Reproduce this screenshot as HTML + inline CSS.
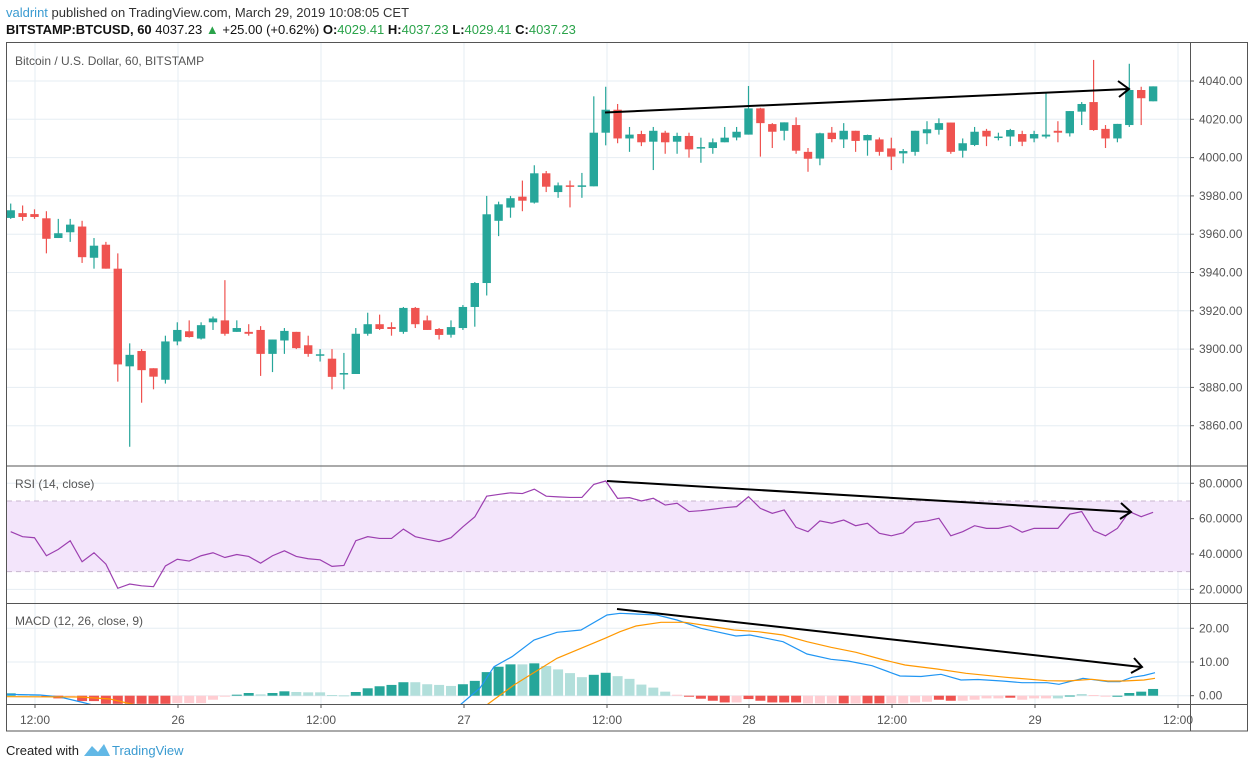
<!DOCTYPE html>
<html><head><meta charset="utf-8"><style>
html,body{margin:0;padding:0;background:#fff;width:1254px;height:768px;overflow:hidden}
svg{display:block;font-family:"Liberation Sans",Arial,sans-serif}
</style></head><body>
<svg id="s" width="1254" height="768" viewBox="0 0 1254 768" xmlns="http://www.w3.org/2000/svg">
<defs>
<clipPath id="cp"><rect x="7" y="43" width="1183" height="422"/></clipPath>
<clipPath id="cr"><rect x="7" y="467" width="1183" height="136"/></clipPath>
<clipPath id="cm"><rect x="7" y="604" width="1183" height="100"/></clipPath>
</defs>
<text x="6" y="17" font-size="13" fill="#333"><tspan fill="#3a9bd1">valdrint</tspan> published on TradingView.com, March 29, 2019 10:08:05 CET</text>
<text x="6" y="34" font-size="13" fill="#111"><tspan font-weight="bold">BITSTAMP:BTCUSD, 60</tspan> 4037.23 <tspan fill="#2aa34a">▲</tspan> +25.00 (+0.62%) <tspan font-weight="bold">O:</tspan><tspan fill="#2aa34a">4029.41</tspan> <tspan font-weight="bold">H:</tspan><tspan fill="#2aa34a">4037.23</tspan> <tspan font-weight="bold">L:</tspan><tspan fill="#2aa34a">4029.41</tspan> <tspan font-weight="bold">C:</tspan><tspan fill="#2aa34a">4037.23</tspan></text>
<g id="grid"></g>
<g id="rsiband"></g>
<g id="candles" clip-path="url(#cp)"></g>
<g id="rsi" clip-path="url(#cr)"></g>
<g id="macd" clip-path="url(#cm)"></g>
<g id="axes"></g>
<text x="15" y="65" font-size="12" fill="#555">Bitcoin / U.S. Dollar, 60, BITSTAMP</text>
<text x="15" y="488" font-size="12" fill="#555">RSI (14, close)</text>
<text x="15" y="625" font-size="12" fill="#555">MACD (12, 26, close, 9)</text>
<g stroke="#000" stroke-width="2" fill="none">
<line x1="605" y1="112.5" x2="1128" y2="89"/>
<polyline points="1118,81 1129,89 1119,97"/>
<line x1="607" y1="481" x2="1130" y2="512"/>
<polyline points="1121,503 1131,512 1120,519"/>
<line x1="617" y1="609" x2="1141" y2="667"/>
<polyline points="1134,658 1142,667 1131,673"/>
</g>
<text x="6" y="755" font-size="13" fill="#222">Created with</text>
<path d="M84 756 L92 746 L98 752 L104 744 L110 756 Z" fill="#62b8e6"/>
<text x="112" y="755" font-size="13" fill="#3a9bd1">TradingView</text>
</svg>
<script>
var NS="http://www.w3.org/2000/svg";
function el(p,t,a){var e=document.createElementNS(NS,t);for(var k in a)e.setAttribute(k,a[k]);document.getElementById(p).appendChild(e);return e;}
function tx(p,x,y,s,a){var e=el(p,"text",Object.assign({x:x,y:y,"font-size":12,fill:"#555"},a||{}));e.textContent=s;return e;}
function X(k){return 10.7+11.9*k;}
function PY(p){return 81+(4040-p)*1.915;}
function RY(v){return 483.3+(80-v)*1.767;}
function MY(v){return 695.7-v*3.37;}
var vx=[35,178,321,464,607,749,892,1035,1178];
vx.forEach(function(x){el("grid","line",{x1:x,y1:43,x2:x,y2:704,stroke:"#e6edf3","stroke-width":1});});
for(var p=3860;p<=4040;p+=20)el("grid","line",{x1:7,y1:PY(p),x2:1190,y2:PY(p),stroke:"#e6edf3"});
[20,40,60,80].forEach(function(v){el("grid","line",{x1:7,y1:RY(v),x2:1190,y2:RY(v),stroke:"#e6edf3"});});
[0,10,20].forEach(function(v){el("grid","line",{x1:7,y1:MY(v),x2:1190,y2:MY(v),stroke:"#e6edf3"});});
el("rsiband","rect",{x:7,y:RY(70),width:1183,height:RY(30)-RY(70),fill:"#f3e5fb"});
[70,30].forEach(function(v){el("rsiband","line",{x1:7,y1:RY(v),x2:1190,y2:RY(v),stroke:"#c8b6cf","stroke-dasharray":"5,4"});});
var D=[[3968.5,3972.5,3976,3968],[3971,3969,3975,3967],[3970.5,3969,3973,3968],[3968.3,3957.6,3972,3950],[3958,3960.5,3968,3958],[3961,3965,3968,3956],[3964,3948,3967,3945],[3947.7,3954,3958,3942],[3954.5,3942,3956,3942],[3942,3892,3950,3883],[3891,3897,3903,3849],[3899,3889,3900,3872],[3890,3885.6,3890,3879],[3884,3904,3907,3882],[3904,3910,3914,3902],[3909.3,3906.3,3915,3906],[3905.5,3912.5,3914,3905],[3914,3916,3917,3910],[3915,3908,3936,3907],[3909,3911,3915,3909],[3909,3908,3913,3907],[3910,3897.5,3912,3886],[3897.5,3905,3905,3888],[3904.5,3909.5,3911,3897.5],[3909,3900.5,3909,3900],[3902,3897.5,3907,3896],[3897,3897.3,3900,3893.5],[3895,3885.5,3900,3879],[3887,3887.5,3898,3879],[3887,3908,3911,3887],[3908,3913,3919,3907],[3913,3910.5,3918,3910],[3911.5,3910.5,3914,3907],[3909,3921.5,3922,3908],[3921.5,3913,3922,3911],[3915,3910,3917.5,3910],[3910.5,3907.4,3911,3905],[3907.5,3911.5,3915,3906],[3911,3922,3923,3910],[3922,3934.5,3935,3911.7],[3934.5,3970.4,3980,3928],[3967,3975.6,3977,3959],[3973.9,3978.8,3980,3968.6],[3979.6,3977.5,3988,3972],[3976.5,3991.8,3996,3976],[3991.8,3984.8,3993,3982],[3982,3985.5,3987,3979],[3985.5,3985,3988,3974],[3985,3985.5,3992,3979],[3985,4013,4032,3985],[4013,4025,4037,4006.4],[4025,4010,4028,4007.5],[4010,4012,4016,4003],[4012.3,4008,4014,4006],[4008.3,4014,4016,3993.5],[4013,4008,4014,4002],[4008.3,4011.3,4013,4002],[4011.3,4004.3,4013,4000],[4005,4005.5,4010.4,3997.3],[4005,4008,4010,4002],[4008,4010.4,4016,4008],[4010.5,4013.5,4016,4009],[4012,4025.7,4037.4,4012],[4025.7,4018,4026,4000.5],[4017.5,4013.5,4018,4005],[4014,4018.4,4018.4,4009],[4017,4003.6,4021,4002],[4003,3999.4,4005,3992.6],[3999.5,4012.7,4013,3996],[4013,4009.7,4016,4008],[4009.5,4014,4018,4005],[4014,4008.7,4014,4003],[4009,4011.8,4012,4001],[4009.5,4003,4010.5,4001],[4004.8,4000.5,4010.4,3993.5],[4002.2,4003.4,4004.5,3997],[4003,4014,4014,4001],[4012.7,4014.8,4019,4007],[4014.5,4018,4020.5,4012],[4018.3,4003,4018.3,4002],[4003.6,4007.5,4010,4000],[4006.6,4013.5,4016,4006],[4014,4011,4015,4006],[4011,4011,4013,4009],[4011,4014.4,4015,4006],[4012.3,4008.3,4014,4006],[4010,4012.3,4014,4008],[4011,4012,4033.5,4010],[4014,4013,4019,4008],[4012.7,4024.3,4024.3,4011],[4024,4028,4029,4017],[4029,4014.4,4051,4014],[4015,4010,4017,4005],[4010,4017.6,4017.6,4008],[4017,4035.3,4049,4016],[4035.3,4031,4037,4017],[4029.4,4037.2,4037.2,4029.4]];
D.forEach(function(d,k){var up=d[1]>=d[0];var c=up?"#26a69a":"#ef5350";var x=X(k);
el("candles","line",{x1:x,y1:PY(d[2]),x2:x,y2:PY(d[3]),stroke:c,"stroke-width":1.2});
var t=PY(Math.max(d[0],d[1])),b=PY(Math.min(d[0],d[1]));if(b-t<1.5){b=t+1.5;}
el("candles","rect",{x:x-4.2,y:t,width:8.4,height:b-t,fill:c});});
var R=[52.6,49.8,49.2,39,42.6,47.5,35.6,40.7,34.3,20.6,23,22,21.5,33.2,37,36,39,40.7,38,39.7,38.6,34.8,39,41.8,38.6,37.3,36.7,33,33.5,47.5,49.8,48.8,48.8,54.1,49.8,48.3,47,49.2,55.4,61,72.7,73.7,74.6,74.2,76.7,72.7,72.3,72,72,79.4,81.3,71.5,71.9,70,71.5,67.7,68.7,64,64.5,65.3,66.2,66.8,72.4,65.8,63,64.9,55.1,52.6,58.7,57.4,59.2,56,57.4,51.7,50.3,52,57.9,58.7,60.2,50.3,52.6,56,54.5,54.5,56,52.3,54.5,54.5,54.5,62.5,64,53.2,50.3,54.5,64,61.1,63.6];
el("rsi","polyline",{points:R.map(function(v,k){return X(k)+","+RY(v);}).join(" "),fill:"none",stroke:"#9c3fb0","stroke-width":1.2});
var H=[0.7,0.3,0.2,-0.2,-0.8,-0.3,-1.6,-1.6,-2.4,-2.4,-2.4,-2.4,-2.4,-2.4,-2.2,-2.2,-2.2,-1.2,-0.3,0.3,0.8,0.4,0.8,1.3,1.1,1.0,1.0,0.2,0.1,1.1,2.2,2.8,3.2,4.0,4.0,3.4,3.2,2.9,3.4,4.4,7,8.6,9.3,9.3,9.6,8.8,7.8,6.7,5.5,6.2,6.8,5.8,5.0,3.3,2.4,1.2,0.3,-0.3,-0.9,-1.5,-2,-2,-1.0,-1.5,-2,-2,-2,-2.3,-2.3,-2.3,-2.3,-2.3,-2.3,-2.3,-2.3,-2.3,-2.0,-1.8,-1.2,-1.5,-1.5,-1.2,-0.8,-0.8,-0.6,-1.2,-0.8,-0.8,-0.8,0.05,0.5,0.2,-0.2,-0.2,0.8,1.2,2];
var C="T t t R R r R R R R R R R R r r r r r T T t T T t t t t t T T T T T t t t t T T T T T t T t t t t T T t t t t t r R R R R r R R R R R r r r R r R R r r r r R R r r r r R r r r t T t r r T T T".split(" ");
var col={T:"#26a69a",t:"#b2dfdb",R:"#ef5350",r:"#ffcdd2"};
H.forEach(function(v,k){var c=col[C[k]]||(v>=0?"#26a69a":"#ef5350");var y0=MY(0),y1=MY(v);el("macd","rect",{x:X(k)-5,y:Math.min(y0,y1),width:10,height:Math.max(1,Math.abs(y1-y0)),fill:c});});
function pl(pts,c){el("macd","polyline",{points:pts.map(function(p){return p[0]+","+p[1];}).join(" "),fill:"none",stroke:c,"stroke-width":1.2});}
pl([[7,694.3],[40,695],[60,697],[85,703],[120,712],[200,730],[400,740],[450,720],[460,705],[480,688],[494,666.7],[512,656.7],[534,640],[557,632.3],[581,630],[607,615],[620,613.3],[657,615],[677,620],[701,628.3],[736,636],[750,635],[783,641.7],[807,654],[831,659.3],[848,661],[872,665.7],[900,676],[921,676.5],[941,674.3],[961,680],[978,679.5],[1002,681],[1022,682.7],[1047,682.7],[1059,684.3],[1083,678.3],[1108,681.7],[1120,681.7],[1132,677.3],[1144,675.5],[1155,672.7]],"#2196f3");
pl([[7,696.7],[80,697],[110,699],[140,706],[220,722],[420,740],[470,722],[488,704],[514,685],[557,658.3],[581,648.3],[605,638.3],[620,631.7],[636,626],[661,622.3],[685,622.3],[709,626],[734,630],[758,631.7],[783,635],[807,641.7],[831,647.3],[856,652.3],[884,660],[905,665],[937,669],[966,673.3],[1006,677.3],[1047,680.7],[1067,681],[1092,679.3],[1108,681],[1124,681],[1144,680],[1155,678.3]],"#ff9800");
var A="axes",bc="#555";
el(A,"rect",{x:6.5,y:42.5,width:1241,height:688.5,fill:"none",stroke:bc});
el(A,"line",{x1:1190.5,y1:42,x2:1190.5,y2:704,stroke:bc});
el(A,"line",{x1:6,y1:466,x2:1247,y2:466,stroke:bc});
el(A,"line",{x1:6,y1:603.5,x2:1247,y2:603.5,stroke:bc});
el(A,"line",{x1:6,y1:704.5,x2:1247,y2:704.5,stroke:bc});
el(A,"line",{x1:1190.5,y1:704,x2:1190.5,y2:731,stroke:bc});
for(var p=3860;p<=4040;p+=20){var y=PY(p);el(A,"line",{x1:1190,y1:y,x2:1194,y2:y,stroke:bc});tx(A,1199,y+4,p.toFixed(2));}
[20,40,60,80].forEach(function(v){var y=RY(v);el(A,"line",{x1:1190,y1:y,x2:1194,y2:y,stroke:bc});tx(A,1199,y+4,v.toFixed(4));});
[0,10,20].forEach(function(v){var y=MY(v);el(A,"line",{x1:1190,y1:y,x2:1194,y2:y,stroke:bc});tx(A,1199,y+4,v.toFixed(2));});
var L=["12:00","26","12:00","27","12:00","28","12:00","29","12:00"];
vx.forEach(function(x,i){el(A,"line",{x1:x,y1:704,x2:x,y2:708,stroke:bc});tx(A,x,724,L[i],{"text-anchor":"middle"});});
</script>
</body></html>
